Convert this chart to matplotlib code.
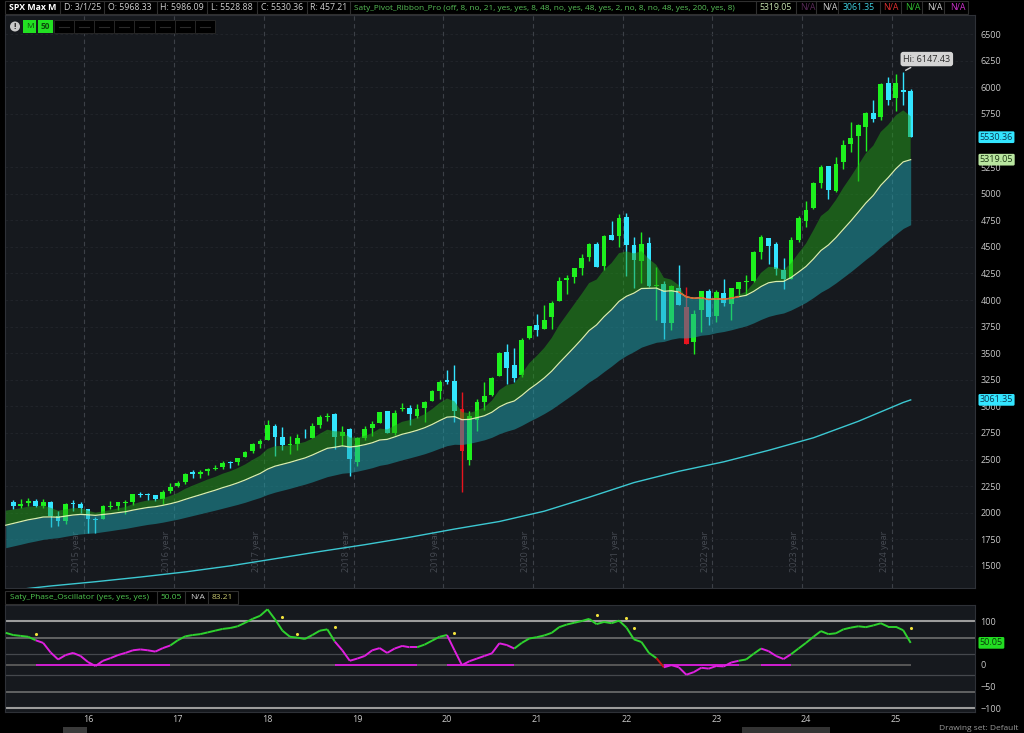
import matplotlib
matplotlib.use("Agg")
import matplotlib.pyplot as plt
import numpy as np
from matplotlib.collections import LineCollection
from matplotlib.patches import Rectangle, Circle

plt.rcParams['font.family'] = ['Open Sans', 'DejaVu Sans']

# monthly SPX candles, index 0 = Mar 2015 ... 120 = Mar 2025
opens = [
    2105.2, 2067.6, 2087.4, 2108.6, 2067.0, 2104.5, 1970.1, 1919.7, 2080.8, 2082.9,
    2038.2, 1936.9, 1937.1, 2056.6, 2067.2, 2093.9, 2099.3, 2173.2, 2171.3, 2164.3, 2128.7, 2200.2,
    2251.6, 2285.6, 2380.1, 2362.3, 2388.5, 2415.7, 2431.4, 2477.1, 2474.4, 2521.2, 2583.2, 2645.1,
    2683.7, 2816.5, 2715.2, 2633.5, 2643.0, 2718.7, 2705.0, 2821.2, 2897.0, 2926.3, 2717.6, 2790.5,
    2477.0, 2702.3, 2798.2, 2848.6, 2952.3, 2751.5, 2971.4, 2980.3, 2909.0, 2983.7, 3050.7, 3143.9,
    3244.7, 3235.7, 2974.3, 2498.1, 2869.1, 3038.8, 3105.9, 3288.3, 3507.4, 3385.9, 3296.2, 3645.9,
    3764.6, 3731.2, 3842.5, 3992.8, 4192.0, 4216.5, 4300.7, 4406.9, 4528.8, 4317.2, 4610.6, 4602.8,
    4778.1, 4519.6, 4363.1, 4540.3, 4130.6, 4149.8, 3781.0, 4112.4, 3936.7, 3609.8, 3901.8, 4087.1,
    3853.3, 4070.1, 3963.3, 4102.2, 4166.8, 4181.2, 4450.5, 4578.8, 4530.6, 4284.5, 4201.3, 4559.4,
    4745.2, 4861.1, 5098.5, 5258.0, 5029.0, 5297.2, 5471.1, 5537.8, 5623.9, 5757.7, 5723.2, 6040.1,
    5903.3, 5969.7, 5968.3,
]
highs = [
    2117.5, 2125.9, 2134.7, 2129.9, 2132.8, 2112.7, 2020.9, 2094.3, 2116.5, 2104.3,
    2038.2, 1963.0, 2072.2, 2111.1, 2103.5, 2120.6, 2177.1, 2193.8, 2187.9, 2169.6, 2214.1, 2277.5,
    2301.0, 2371.5, 2401.0, 2398.2, 2418.7, 2453.8, 2484.0, 2490.9, 2519.4, 2583.0, 2657.7, 2695.0,
    2872.9, 2836.0, 2801.9, 2717.5, 2742.2, 2791.5, 2848.0, 2916.5, 2940.9, 2939.9, 2815.2, 2800.2,
    2709.0, 2813.5, 2860.3, 2949.5, 2954.1, 2964.2, 3028.0, 3013.6, 3022.0, 3050.1, 3154.3, 3247.9,
    3337.8, 3393.5, 3136.7, 2954.9, 3068.7, 3233.1, 3280.0, 3514.8, 3588.1, 3549.9, 3646.0, 3760.2,
    3870.9, 3950.4, 3994.4, 4218.8, 4238.0, 4302.4, 4430.0, 4537.4, 4545.9, 4608.1, 4743.8, 4808.9,
    4818.6, 4595.3, 4637.3, 4593.5, 4307.7, 4177.5, 4140.2, 4325.3, 4119.3, 3905.4, 4080.1, 4101.0,
    4094.2, 4195.4, 4110.8, 4170.1, 4231.1, 4458.5, 4607.1, 4584.6, 4541.3, 4393.6, 4587.6, 4793.3,
    4931.1, 5111.1, 5264.9, 5264.0, 5341.9, 5505.5, 5669.7, 5651.6, 5767.4, 5878.5, 6044.2, 6100.0,
    6128.2, 6147.4, 5986.1,
]
lows = [
    2039.7, 2048.4, 2067.9, 2056.3, 2044.0, 1867.0, 1871.9, 1893.7, 2019.4, 1993.3,
    1812.3, 1810.1, 1937.1, 2033.8, 2025.9, 1991.7, 2074.0, 2147.6, 2119.1, 2114.7, 2083.8, 2187.4,
    2245.1, 2271.7, 2322.3, 2329.0, 2352.7, 2405.7, 2407.7, 2417.4, 2446.6, 2520.4, 2557.5, 2605.5,
    2682.4, 2532.7, 2585.9, 2553.8, 2594.6, 2699.0, 2699.0, 2796.3, 2864.1, 2603.5, 2631.1, 2346.6,
    2444.0, 2681.8, 2722.3, 2848.6, 2750.5, 2728.8, 2952.2, 2822.1, 2891.9, 2855.9, 3050.7, 3070.3,
    3214.6, 2855.8, 2191.9, 2447.5, 2766.6, 2965.7, 3101.2, 3284.5, 3209.5, 3233.9, 3279.7, 3633.4,
    3662.7, 3725.6, 3723.3, 3992.8, 4056.9, 4164.4, 4233.1, 4367.7, 4305.9, 4278.9, 4560.0, 4495.1,
    4222.6, 4114.7, 4157.9, 4124.3, 3810.3, 3636.9, 3721.6, 3954.5, 3584.1, 3491.6, 3698.2, 3764.5,
    3794.3, 3943.1, 3808.9, 4049.4, 4048.3, 4166.2, 4385.1, 4335.3, 4238.6, 4103.8, 4197.7, 4546.5,
    4682.1, 4853.5, 5056.8, 4953.6, 5011.1, 5234.3, 5391.0, 5119.3, 5402.6, 5674.0, 5696.5, 5832.3,
    5773.3, 5837.7, 5528.9,
]
closes = [
    2067.9, 2085.5, 2107.4, 2063.1, 2103.8, 1972.2, 1920.0, 2079.4, 2080.4, 2043.9,
    1940.2, 1932.2, 2059.7, 2065.3, 2097.0, 2098.9, 2173.6, 2171.0, 2168.3, 2126.2, 2198.8, 2238.8,
    2278.9, 2363.6, 2362.7, 2384.2, 2411.8, 2423.4, 2470.3, 2471.7, 2519.4, 2575.3, 2647.6, 2673.6,
    2823.8, 2713.8, 2640.9, 2648.1, 2705.3, 2718.4, 2816.3, 2901.5, 2914.0, 2711.7, 2760.2, 2506.9,
    2704.1, 2784.5, 2834.4, 2945.8, 2752.1, 2941.8, 2980.4, 2926.5, 2976.7, 3037.6, 3141.0, 3230.8,
    3225.5, 2954.2, 2584.6, 2912.4, 3044.3, 3100.3, 3271.1, 3500.3, 3363.0, 3270.0, 3621.6, 3756.1,
    3714.2, 3811.2, 3972.9, 4181.2, 4204.1, 4297.5, 4395.3, 4522.7, 4307.5, 4605.4, 4567.0, 4766.2,
    4515.6, 4373.9, 4530.4, 4131.9, 4132.2, 3785.4, 4130.3, 3955.0, 3585.6, 3872.0, 4080.1, 3839.5,
    4076.6, 3970.2, 4109.3, 4169.5, 4179.8, 4450.4, 4589.0, 4507.7, 4288.1, 4193.8, 4567.8, 4769.8,
    4845.7, 5096.3, 5254.4, 5035.7, 5277.5, 5460.5, 5522.3, 5648.4, 5762.5, 5705.5, 6032.4, 5881.6,
    6040.5, 5954.5, 5530.36,
]

# ribbon lines, index -1 (Feb 2015) .. 120 (Mar 2025)
ema8 = [
    2020, 2031, 2043, 2057, 2059, 2069, 2047, 2019, 2032, 2043, 2043,
    2020, 2001, 2014, 2025, 2041, 2054, 2081, 2101, 2116, 2118, 2136, 2159,
    2186, 2225, 2256, 2284, 2313, 2337, 2367, 2390, 2419, 2454, 2497, 2536,
    2600, 2625, 2629, 2633, 2649, 2665, 2698, 2743, 2781, 2766, 2765, 2707,
    2707, 2724, 2748, 2792, 2783, 2819, 2855, 2871, 2894, 2926, 2974, 3031,
    3074, 3048, 2945, 2937, 2961, 2992, 3054, 3153, 3200, 3215, 3306, 3406,
    3474, 3549, 3643, 3763, 3861, 3959, 4056, 4159, 4192, 4284, 4347, 4440,
    4457, 4438, 4459, 4386, 4330, 4209, 4191, 4139, 4016, 3984, 4005, 3968,
    3992, 3988, 4015, 4049, 4078, 4161, 4256, 4312, 4307, 4282, 4345, 4440,
    4530, 4656, 4789, 4844, 4940, 5056, 5159, 5268, 5378, 5451, 5580, 5647,
    5734, 5783, 5727,
]
ema21 = [
    1883, 1900, 1917, 1934, 1946, 1960, 1961, 1958, 1969, 1979, 1985,
    1981, 1976, 1984, 1991, 2001, 2010, 2025, 2038, 2050, 2057, 2070, 2085,
    2103, 2126, 2148, 2169, 2191, 2212, 2236, 2257, 2281, 2308, 2339, 2369,
    2410, 2438, 2456, 2474, 2495, 2515, 2543, 2575, 2606, 2616, 2629, 2618,
    2626, 2640, 2658, 2684, 2690, 2713, 2738, 2755, 2775, 2799, 2830, 2866,
    2899, 2904, 2875, 2878, 2894, 2912, 2945, 2995, 3029, 3051, 3103, 3162,
    3212, 3267, 3331, 3408, 3481, 3555, 3631, 3712, 3766, 3843, 3909, 3987,
    4035, 4065, 4108, 4110, 4112, 4082, 4087, 4075, 4030, 4016, 4022, 4005,
    4012, 4008, 4017, 4031, 4044, 4081, 4127, 4162, 4174, 4175, 4211, 4262,
    4315, 4386, 4465, 4517, 4586, 4665, 4743, 4826, 4911, 4983, 5078, 5151,
    5232, 5298, 5319,
]
ema48 = [
    1672, 1688, 1704, 1721, 1735, 1750, 1759, 1766, 1779, 1791, 1801,
    1807, 1812, 1822, 1832, 1843, 1853, 1866, 1879, 1891, 1900, 1912, 1926,
    1940, 1957, 1974, 1991, 2008, 2025, 2043, 2061, 2079, 2099, 2122, 2144,
    2172, 2194, 2212, 2230, 2250, 2269, 2291, 2316, 2340, 2356, 2372, 2378,
    2391, 2407, 2424, 2446, 2458, 2478, 2498, 2516, 2535, 2555, 2579, 2606,
    2631, 2644, 2642, 2653, 2669, 2686, 2710, 2743, 2768, 2788, 2822, 2860,
    2895, 2933, 2975, 3024, 3073, 3123, 3175, 3230, 3274, 3328, 3379, 3435,
    3479, 3516, 3557, 3581, 3603, 3611, 3632, 3645, 3643, 3652, 3669, 3676,
    3693, 3704, 3720, 3739, 3757, 3785, 3818, 3846, 3864, 3878, 3906, 3941,
    3978, 4024, 4074, 4113, 4161, 4214, 4267, 4324, 4382, 4436, 4501, 4558,
    4618, 4673, 4708,
]
ema200_t = [-1, 5, 11, 17, 23, 29, 35, 41, 47, 53, 59, 65, 71, 77, 83, 89, 95, 101, 107, 113, 119, 120]
ema200 = [1265, 1312, 1352, 1396, 1444, 1501, 1568, 1636, 1700, 1770, 1847, 1918,
          2015, 2146, 2284, 2390, 2479, 2587, 2705, 2860, 3037, 3061]

# phase oscillator, index -1 .. 120
osc = [
    73, 68, 66, 64, 56, 50, 28, 12, 22, 27, 20,
    6, -3, 9, 15, 22, 27, 33, 35, 33, 30, 38, 44,
    56, 65, 68, 70, 74, 78, 82, 84, 88, 96, 105, 112,
    127, 104, 78, 64, 62, 59, 68, 78, 81, 53, 33, 9,
    14, 20, 33, 38, 27, 37, 43, 40, 40, 46, 55, 64,
    68, 33, -1, 8, 14, 20, 26, 49, 45, 37, 50, 60,
    63, 67, 73, 86, 92, 96, 100, 105, 93, 98, 95, 101,
    85, 58, 52, 27, 15, -6, -1, -6, -23, -17, -7, -9,
    -3, -4, 5, 9, 12, 25, 37, 31, 20, 13, 24, 37,
    50, 64, 77, 70, 72, 81, 85, 88, 86, 90, 95, 87,
    87, 79, 50,
]
phase_runs = [("bull", -1, 3), ("comp", 4, 21), ("bull", 22, 43), ("comp", 44, 54),
              ("bull", 55, 58), ("comp", 59, 67), ("bull", 68, 86), ("bear", 87, 87),
              ("comp", 88, 97), ("bull", 98, 100), ("comp", 101, 104), ("bull", 105, 120)]
dot_t = [3, 36, 38, 43, 59, 78, 82, 83, 120]
dot_v = [71, 110, 70, 86, 73, 114, 106, 85, 83]

# 5500 and 50 sit under the last-value boxes, so they are not shown
price_ticks = [p for p in range(1500, 6501, 250) if p != 5500]
osc_ticks = [100, 0, -50, -100]
year_ticks = [10, 22, 34, 46, 58, 70, 82, 94, 106, 118]
year_labels = ['16', '17', '18', '19', '20', '21', '22', '23', '24', '25']
sep_years = [2015, 2016, 2017, 2018, 2019, 2020, 2021, 2022, 2023, 2024]

W, H = 1024, 733
BG = '#16191e'
UP, DN, RD = '#1ef01e', '#33e5ff', '#e8141e'


def fbox(x0, y0, x1, y1):
    return [x0 / W, 1 - y1 / H, (x1 - x0) / W, (y1 - y0) / H]


fig = plt.figure(figsize=(W / 100, H / 100), dpi=100, facecolor='black')
ax = fig.add_axes(fbox(5, 15, 975, 588), facecolor=BG)
oax = fig.add_axes(fbox(5, 605, 975, 712), facecolor=BG)
over = fig.add_axes([0, 0, 1, 1])
over.set_xlim(0, W)
over.set_ylim(H, 0)
over.axis('off')

XL = (-1.1, 128.6)

# ---------------- main price panel ----------------
t = np.arange(len(closes))
o, h, l, c = map(np.array, (opens, highs, lows, closes))
tt = np.arange(-1, len(closes))
e8, e21, e48 = map(np.array, (ema8, ema21, ema48))

cols = []
for i in range(len(c)):
    if c[i] >= o[i]:
        cols.append(UP)
    elif c[i] < e48[i + 1]:
        cols.append(RD)
    else:
        cols.append(DN)

ax.vlines(t, l, h, colors=cols, lw=1.0, zorder=2)
body = np.maximum(np.abs(c - o), 7)
ax.bar(t, body, bottom=np.minimum(o, c), width=0.64, color=cols, lw=0, zorder=2)

ax.fill_between(tt, e21, e48, color='#1ea7b2', alpha=0.5, lw=0, zorder=3)
ax.fill_between(tt, e8, e21, where=e8 >= e21, interpolate=True,
                color='#22a01a', alpha=0.5, lw=0, zorder=3)
ax.plot(tt, e21, color='#d6efb0', lw=0.9, zorder=4)
bear = (e8 < e21)
for i in range(len(tt) - 1):
    if bear[i] or bear[i + 1]:
        ax.plot(tt[i:i + 2], e21[i:i + 2], color='#e0612b', lw=1.0, zorder=4)
ax.plot(ema200_t, ema200, color='#3cc8d2', lw=1.0, zorder=4)

for k, yr in enumerate(sep_years):
    xs = 9.5 + 12 * k
    ax.axvline(xs, color='#3c4047', lw=0.8, ls=(0, (4, 3)), zorder=1)
    ax.text(xs - 0.4, 1440, f'{yr} year', rotation=90, ha='right', va='bottom',
            fontsize=6.5, color='#464a52', zorder=1)

ax.set_xlim(*XL)
ax.set_ylim(1293, 6679)
ax.set_yticks(price_ticks)
ax.yaxis.tick_right()
ax.tick_params(axis='y', length=0, pad=4, labelsize=6.5, labelcolor='#c8c8c8')
ax.tick_params(axis='x', length=0, labelbottom=False)
ax.grid(axis='y', color='#22262c', lw=0.6, ls=(0, (3, 3)))
for s in ax.spines.values():
    s.set_color('#2e3137')

ax.annotate('Hi: 6147.43', xy=(119, 6147.43), xytext=(17, 9), textcoords='offset points',
            ha='center', va='center', fontsize=6.5, color='#2a2a2a', zorder=6,
            bbox=dict(boxstyle='round,pad=0.3', fc='#d4d4d4', ec='none'),
            arrowprops=dict(arrowstyle='-', color='#d4d4d4', lw=1))

yt = ax.get_yaxis_transform()
for val, txt, fc, tc in [(5530.36, '5530.36', '#33e5ff', '#0b3850'),
                         (5319.05, '5319.05', '#b9e6a0', '#1d3a14'),
                         (3061.35, '3061.35', '#33e5ff', '#0b3850')]:
    ax.text(1.005, val, txt, transform=yt, ha='left', va='center', fontsize=6.5,
            color=tc, zorder=8, clip_on=False,
            bbox=dict(boxstyle='round,pad=0.15', fc=fc, ec='none'))

# ---------------- oscillator panel ----------------
for lv, col, lw in [(100, '#9c9c9c', 1.5), (-100, '#9c9c9c', 1.5),
                    (61.8, '#767676', 1.1), (-61.8, '#767676', 1.1),
                    (23.6, '#45484d', 0.9), (-23.6, '#45484d', 0.9)]:
    oax.axhline(lv, color=col, lw=lw, zorder=1)

phase = {}
for name, a, b in phase_runs:
    for m in range(a, b + 1):
        phase[m] = name
ov = np.array(osc)
seg_cols = {'bull': '#2ed22e', 'comp': '#e020e0', 'bear': '#c81414'}
segs, scol, zsegs, zcol = [], [], [], []
for i in range(len(tt) - 1):
    segs.append([(tt[i], ov[i]), (tt[i + 1], ov[i + 1])])
    scol.append(seg_cols[phase[tt[i + 1]]])
    zsegs.append([(tt[i], 0), (tt[i + 1], 0)])
    zcol.append('#e020e0' if phase[tt[i + 1]] == 'comp' else '#5c5c5c')
oax.add_collection(LineCollection(zsegs, colors=zcol, lw=1.3, zorder=2))
oax.add_collection(LineCollection(segs, colors=scol, lw=1.4, zorder=3))
oax.scatter(dot_t, dot_v, s=5, color='#f2e23c', zorder=4, lw=0)

oax.set_xlim(*XL)
oax.set_ylim(-108.4, 136.8)
oax.set_yticks(osc_ticks)
oax.yaxis.tick_right()
oax.tick_params(axis='y', length=0, pad=4, labelsize=6.5, labelcolor='#c8c8c8')
oax.set_xticks(year_ticks)
oax.set_xticklabels(year_labels)
oax.tick_params(axis='x', length=0, pad=2, labelsize=6.5, labelcolor='#c8c8c8')
for s in oax.spines.values():
    s.set_color('#2e3137')
oax.text(1.005, 50.05, '50.05', transform=oax.get_yaxis_transform(), ha='left',
         va='center', fontsize=6.5, color='#0a3a0a', zorder=8, clip_on=False,
         bbox=dict(boxstyle='round,pad=0.15', fc='#22dd22', ec='none'))

# ---------------- header bars ----------------
over.add_patch(Rectangle((5, 1), 963, 13, fc='black', ec='#2f2f2f', lw=0.8))
hdr = [("SPX Max M", 9, '#ffffff', 'bold'), ("D: 3/1/25", 64, '#d0d0d0', 'normal'),
       ("O: 5968.33", 108, '#d0d0d0', 'normal'), ("H: 5986.09", 160, '#d0d0d0', 'normal'),
       ("L: 5528.88", 211, '#d0d0d0', 'normal'), ("C: 5530.36", 261, '#d0d0d0', 'normal'),
       ("R: 457.21", 310, '#d0d0d0', 'normal'),
       ("5319.05", 759, '#c8e4b0', 'normal'), ("N/A", 800, '#5a2a5a', 'normal'),
       ("N/A", 822, '#d0d0d0', 'normal'), ("3061.35", 843, '#40d0e0', 'normal'),
       ("N/A", 883, '#e03030', 'normal'), ("N/A", 905, '#30c030', 'normal'),
       ("N/A", 927, '#d0d0d0', 'normal'), ("N/A", 950, '#d030d0', 'normal')]
for txt, x, col, wt in hdr:
    over.text(x, 8, txt, ha='left', va='center', fontsize=6.3, color=col, fontweight=wt)
over.text(354, 8, "Saty_Pivot_Ribbon_Pro (off, 8, no, 21, yes, yes, 8, 48, no, yes, 48, yes, "
          "2, no, 8, no, 48, yes, 200, yes, 8)", ha='left', va='center', fontsize=5.95,
          color='#58c058')
for x in [60, 104, 157, 207, 257, 307, 350, 756, 796, 816, 838, 880, 901, 922, 944]:
    over.plot([x, x], [1, 14], color='#2f2f2f', lw=0.8)

over.add_patch(Circle((15, 26.5), 5, fc='#c8c8c8', ec='none'))
over.text(15, 26.8, '!', ha='center', va='center', fontsize=6, color='#222', fontweight='bold')
over.add_patch(Rectangle((23, 20), 13, 13, fc='#22e022', ec='none'))
over.text(29.5, 26.8, 'M', ha='center', va='center', fontsize=6, color='#0d4a0d')
over.add_patch(Rectangle((38, 20), 15, 13, fc='#22e022', ec='none'))
over.text(45.5, 26.8, '50', ha='center', va='center', fontsize=6, color='#0d4a0d', fontweight='bold')
for k in range(8):
    x0 = 53.5 + k * 20.2
    over.add_patch(Rectangle((x0, 20), 20.2, 13, fc='black', ec='#262626', lw=0.7))
    over.plot([x0 + 5, x0 + 15], [26.5, 26.5], color='#2a2a2a', lw=0.8)

over.add_patch(Rectangle((5, 591), 233, 13, fc='black', ec='#2f2f2f', lw=0.8))
for txt, x, col in [("Saty_Phase_Oscillator (yes, yes, yes)", 10, '#50c850'),
                    ("50.05", 160, '#50c850'), ("N/A", 190, '#d0d0d0'), ("83.21", 212, '#c8c870')]:
    over.text(x, 597.5, txt, ha='left', va='center', fontsize=6.0, color=col)
for x in [157, 185, 208]:
    over.plot([x, x], [591, 604], color='#2f2f2f', lw=0.8)

# bottom toolbar remnants
over.add_patch(Rectangle((63, 727), 24, 8, fc='#3a3a3a', ec='none'))
over.add_patch(Rectangle((742, 727), 88, 8, fc='#333333', ec='none'))
over.text(1018, 728.5, 'Drawing set: Default', ha='right', va='center', fontsize=6,
          color='#9a9a9a')

fig.savefig('out.png', dpi=100, facecolor='black')
